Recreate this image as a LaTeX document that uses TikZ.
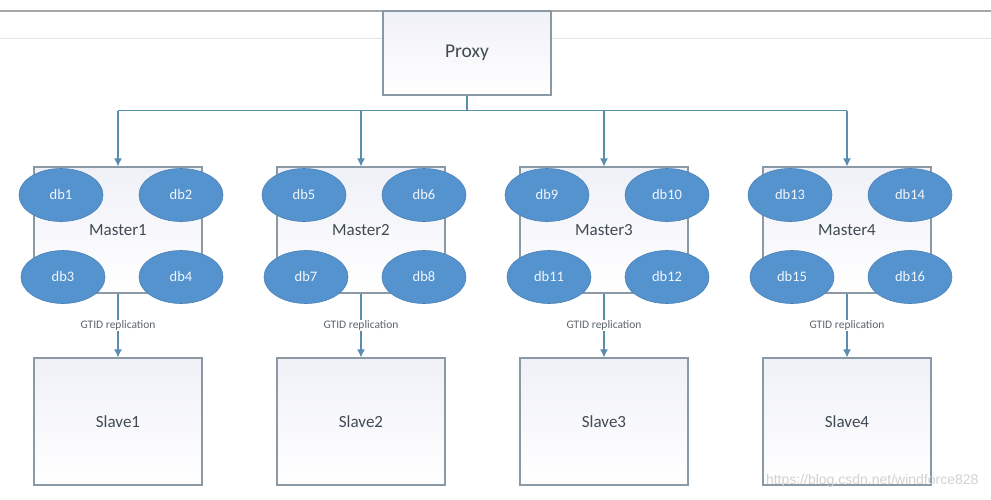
\documentclass[tikz,border=0pt]{standalone}
\usepackage{fontspec}
\setmainfont{Carlito}
\newfontfamily\markfont{Liberation Sans}
\usetikzlibrary{shapes.geometric, arrows.meta}

\definecolor{linkblue}{HTML}{5A8DAD}
\definecolor{boxedge}{HTML}{8A99A3}
\definecolor{boxtint}{HTML}{F0F1F8}
\definecolor{dbblue}{HTML}{5593CF}
\definecolor{textgray}{HTML}{3F4A52}

\tikzset{
    server/.style={draw=boxedge, line width=1.2pt, top color=boxtint, bottom color=white,
        minimum width=168pt, minimum height=126pt, inner sep=0pt, text=textgray,
        font=\fontsize{17}{20}\selectfont},
    dbnode/.style={ellipse, fill=dbblue, draw=dbblue!88!black, line width=0.6pt,
        minimum width=84pt, minimum height=53pt, inner sep=0pt, text=white!92!dbblue,
        font=\fontsize{14.5}{17}\selectfont},
    link/.style={draw=linkblue, line width=1.2pt},
}

\begin{document}
\begin{tikzpicture}[x=1pt, y=-1pt, >={Latex[length=8pt,width=8pt]}]
        \useasboundingbox (0,0) rectangle (991,499);
        \draw[line width=1.2pt, draw=gray!70] (0,11) -- (991,11);
        \draw[line width=1pt, draw=gray!20] (0,38) -- (991,38);

        \node[server, minimum height=84pt, font=\fontsize{19.5}{23}\selectfont] (proxy) at (467,53) {Proxy};
        \draw[link] (proxy.south) -- ++(0,15) coordinate (bus);

        \foreach \i in {1,...,4} {
            \pgfmathsetmacro{\cx}{118+243*(\i-1)}
            \pgfmathtruncatemacro{\da}{4*\i-3}
            \pgfmathtruncatemacro{\db}{4*\i-2}
            \pgfmathtruncatemacro{\dc}{4*\i-1}
            \pgfmathtruncatemacro{\dd}{4*\i}
            \node[server] (master\i) at (\cx,230) {Master\i};
            \node[server, minimum height=127pt] (slave\i) at (\cx,421.5) {Slave\i};
            \node[dbnode] (db\da) at (\cx-57,195) {db\da};
            \node[dbnode] (db\db) at (\cx+63,195) {db\db};
            \node[dbnode] (db\dc) at (\cx-55,277) {db\dc};
            \node[dbnode] (db\dd) at (\cx+63,277) {db\dd};
            \draw[link, ->] (master\i.north |- bus) -- (master\i.north);
            \draw[link, ->] (master\i.south) -- node[fill=white, text=textgray!85, inner sep=1pt,
                font=\fontsize{11.5}{13}\selectfont] {GTID replication} (slave\i.north);
        }
        \draw[link] (master1.north |- bus) -- (master4.north |- bus);

        \node[anchor=east, text=gray!35, font=\markfont\fontsize{14}{16}\selectfont] (mark) at (982,481) {https://blog.csdn.net/windforce828};
    \end{tikzpicture}
\end{document}
